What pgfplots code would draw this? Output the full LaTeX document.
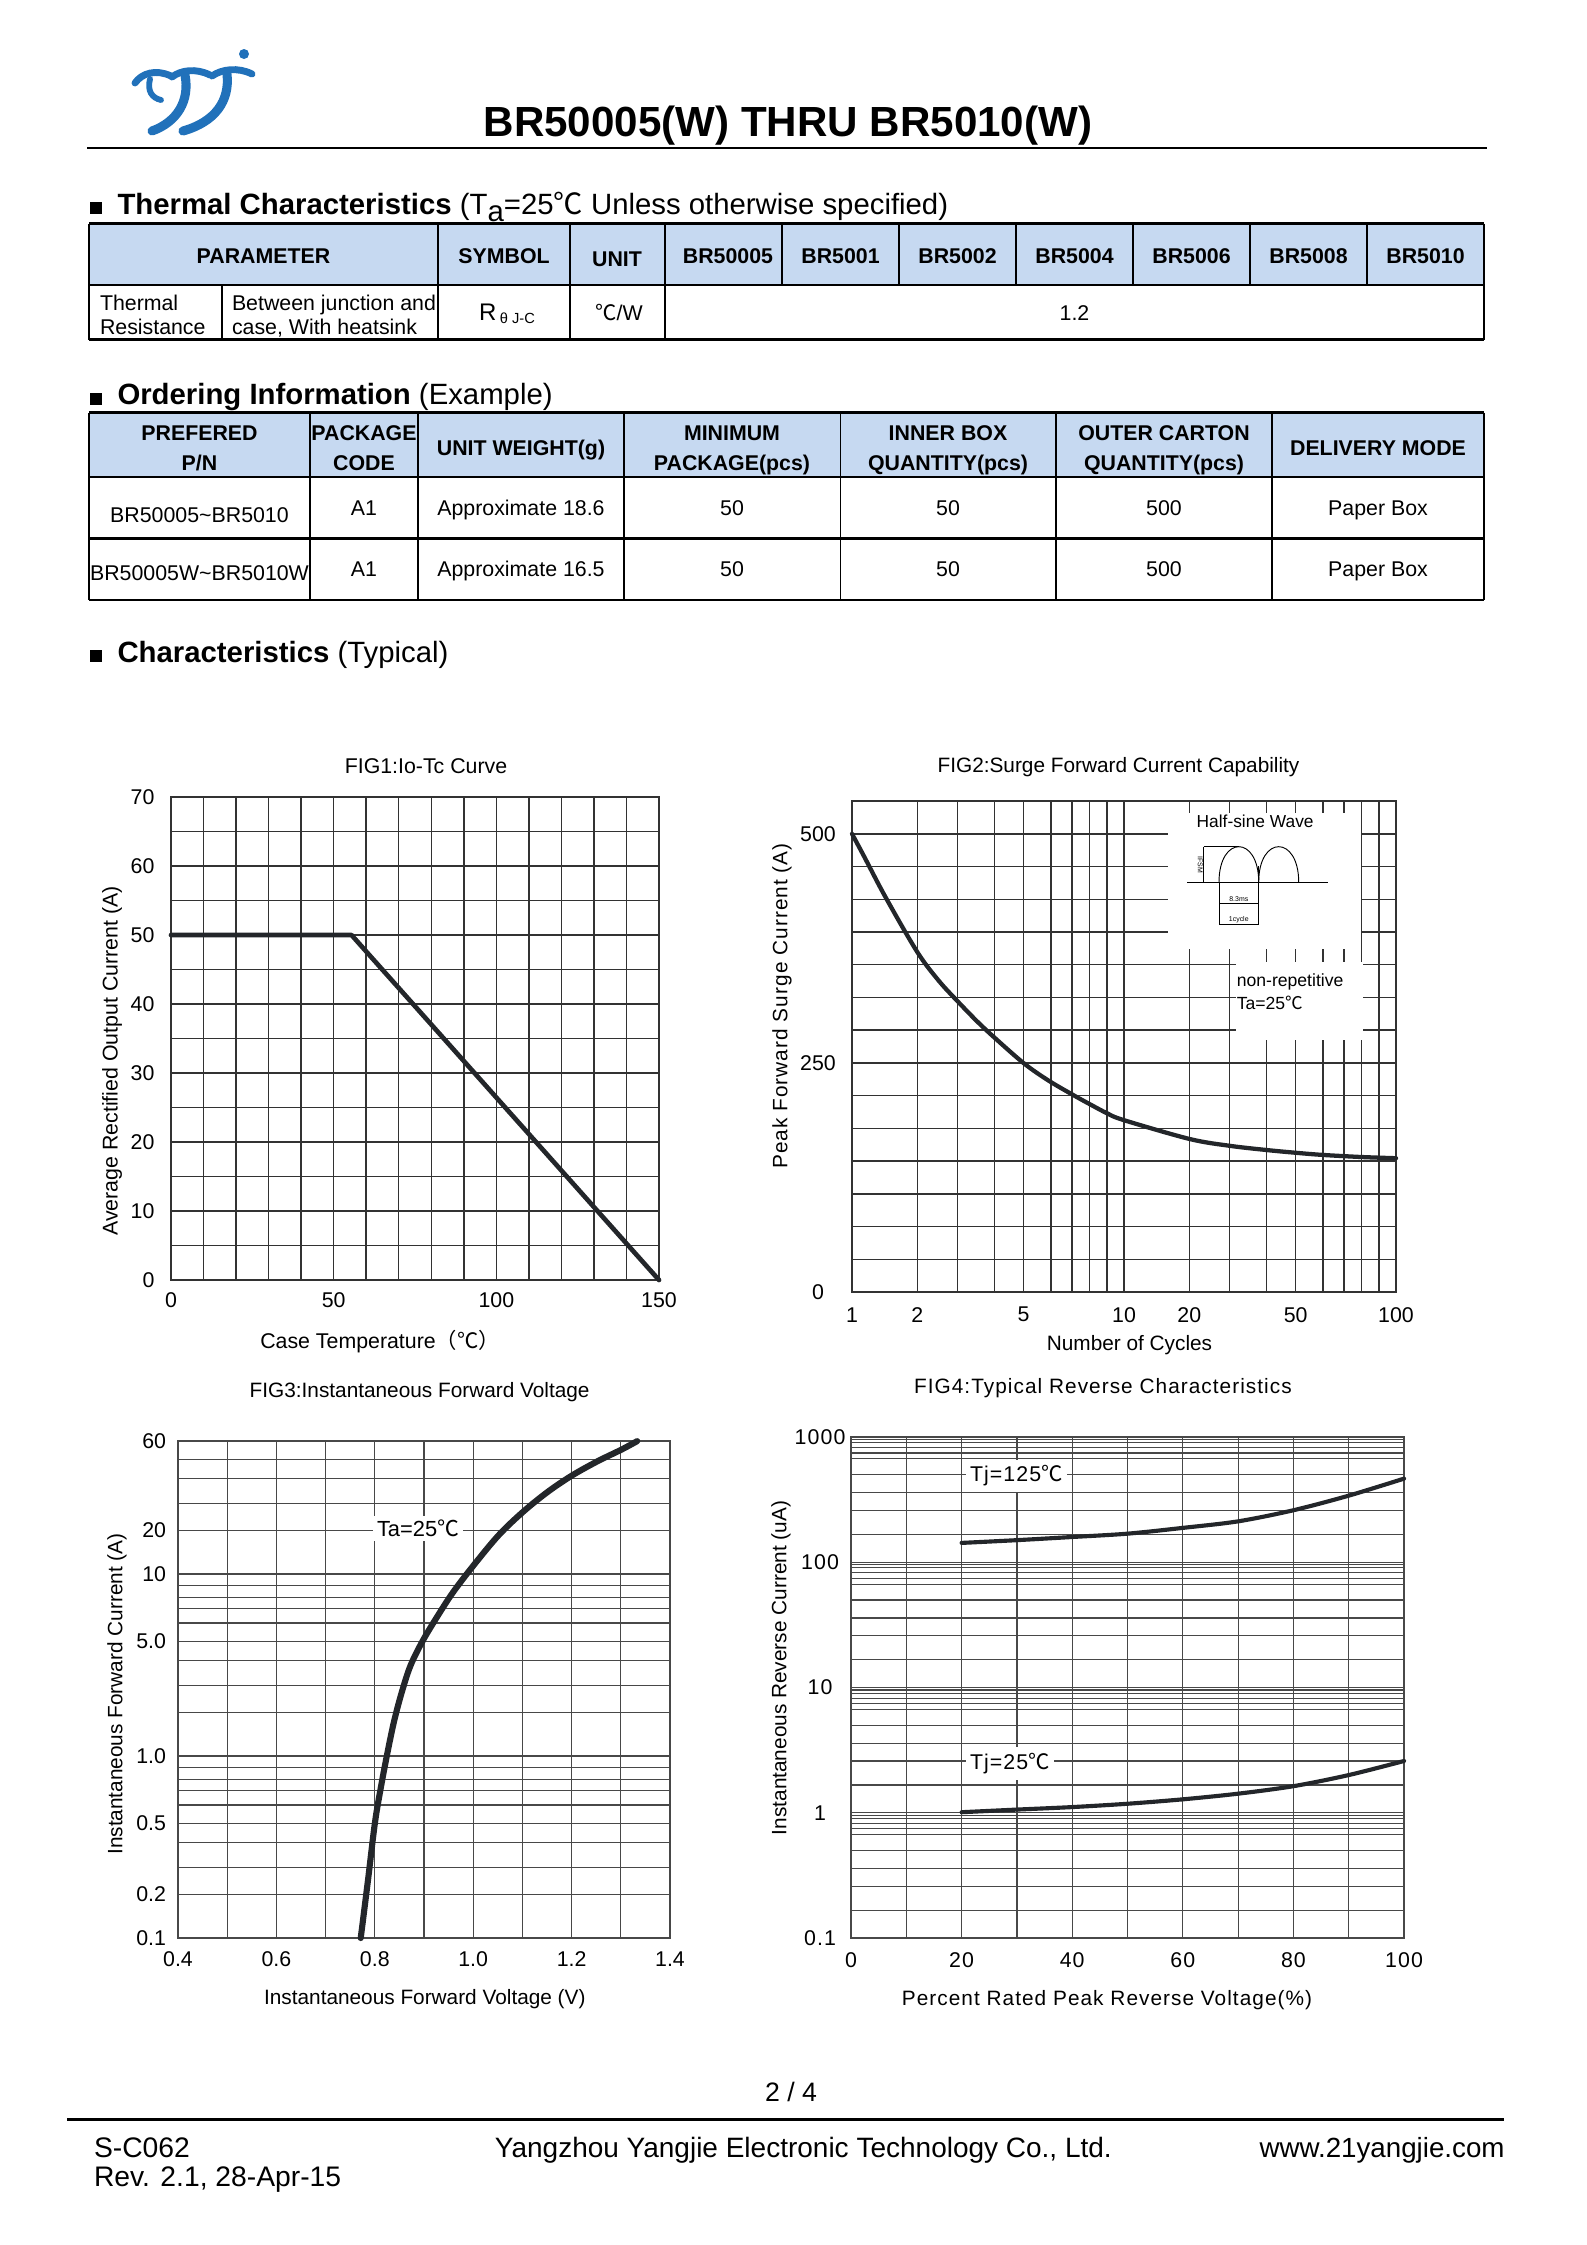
\documentclass[border=0pt]{standalone}
\usepackage{fontspec}
\setmainfont{Liberation Sans}
\newfontfamily\cjk{Noto Sans CJK SC}
\newfontfamily\lsp[LetterSpace=5]{Liberation Sans}
\usepackage{pgfplots}
\usepackage{pgfplotstable}
\pgfplotsset{compat=1.18}
\definecolor{hdr}{RGB}{198,217,241}
\definecolor{logo}{RGB}{33,113,186}
\definecolor{grd}{RGB}{72,72,72}
\definecolor{grdd}{RGB}{50,50,50}
\definecolor{crvc}{RGB}{35,38,42}
\newcommand\fs[1]{\fontsize{#1}{#1}\selectfont}
\newcommand\dC{{\cjk ℃}}

\pgfplotsset{
 ds/.style={scale only axis, anchor=south west, clip=false,
   axis line style={draw=grd, line width=0.5pt},
   grid=both,
   major grid style={draw=grd, line width=0.45pt},
   minor grid style={draw=grd, line width=0.45pt},
   major tick length=0pt, minor tick length=0pt,
   tick label style={font=\fs{8}, inner sep=0pt},
   /pgf/number format/assume math mode=true},
 dark/.style={axis line style={draw=grdd, line width=0.6pt},
   major grid style={draw=grdd, line width=0.55pt},
   minor grid style={draw=grdd, line width=0.55pt}},
 dcurve/.style={draw=crvc, line cap=round, line join=round, no marks},
}

% FIG1: Io-Tc curve
\pgfplotstableread{
T I
0 50
55.5 50
150 0
}\tabA
% FIG2: surge current; pos = location on the chart's cycle scale (decades)
\pgfplotstableread{
n pos I
1 0 500
1.19 0.045 475
1.51 0.123 431
2 0.240 371
2.53 0.318 340
3 0.389 317
3.54 0.461 295
4 0.526 277
5 0.632 249.5
5.9 0.721 231
7 0.810 215.5
8 0.874 205
9 0.938 195
10 1 187.5
20 1.241 167
30 1.387 159.6
40 1.522 155
50 1.629 152
60 1.730 149.6
80 1.873 147.3
100 2 146
}\tabB
% FIG3: forward voltage; pos = location on the chart's current scale (decades above 0.1 A)
\pgfplotstableread{
V I pos
0.7714 0.1 0
0.7859 0.249 0.3122
0.8003 0.503 0.6338
0.8124 0.731 0.8286
0.8244 1.0 1.0
0.8389 1.78 1.1878
0.8550 2.76 1.3521
0.8727 3.81 1.4977
0.8976 5.03 1.6338
0.9273 6.47 1.7676
0.9595 8.44 1.9014
1.0013 12.1 2.0493
1.0519 18.9 2.2136
1.1018 26.9 2.3427
1.1524 34.8 2.4531
1.2015 41.8 2.5423
1.2529 48.2 2.6197
1.3011 55.2 2.6831
1.3333 60 2.7300
}\tabC
% FIG4: reverse current
\pgfplotstableread{
V I
20 142.6
30 150
40 159
50 169
60 188
70 212
80 260
90 340
100 465
}\tabDh
\pgfplotstableread{
V I
20 1.01
30 1.06
40 1.11
50 1.18
60 1.28
70 1.42
80 1.63
90 2.00
100 2.59
}\tabDc

\begin{document}
\begin{tikzpicture}[tx/.style={inner sep=0pt, outer sep=0pt}]
\begin{scope}[x=0.375pt,y=-0.375pt]
\path[use as bounding box] (0,0) rectangle (1587,2245);

% ---------- logo ----------
\begin{scope}[draw=logo, line cap=round, line width=2.6pt]
\draw (135,83) .. controls (142,73) and (156,69) .. (171,76);
\draw[line width=2.2pt] (150,79) .. controls (147,91) and (152,98) .. (161,100);
\draw (172,77) .. controls (181,70) and (196,68) .. (210,75);
\draw[line width=3.4pt] (185,75) .. controls (190,101) and (177,122) .. (152,131);
\draw (212,76) .. controls (222,69) and (238,67) .. (252,74);
\draw[line width=3.4pt] (227,74) .. controls (230,101) and (215,122) .. (183,131);
\fill[logo] (244,54) circle (5);
\end{scope}

% ---------- title ----------
\node[tx, anchor=base, font=\fs{15.8}\bfseries] at (788,136.5) {BR50005(W) THRU BR5010(W)};
\draw[line width=1.1pt] (87,148) -- (1487,148);

% ---------- thermal characteristics ----------
\fill (90,202) rectangle (102,214);
\node[tx, anchor=base west, font=\fs{11}] at (117.5,214) {\textbf{Thermal Characteristics} (T\raisebox{-0.25em}{a}=25\dC\ Unless otherwise specified)};

\fill[hdr] (89,223.5) rectangle (1484,285);
\begin{scope}[line width=0.55pt]
 \foreach \x in {438,570,665,782,899,1016,1133,1250,1367} \draw (\x,223.5) -- (\x,285);
 \foreach \x in {222,438,570,665} \draw (\x,285) -- (\x,339.5);
\end{scope}
\draw[line width=1pt] (89,223.5) -- (1484,223.5) (89,285) -- (1484,285) (89,339.5) -- (1484,339.5);
\draw[line width=0.8pt] (89,223.5) -- (89,339.5) (1484,223.5) -- (1484,339.5);
\begin{scope}[every node/.style={tx, anchor=base, font=\fs{8}\bfseries}]
\node at (263.5,263) {PARAMETER};
\node at (504,263) {SYMBOL};
\node at (617,266.5) {UNIT};
\node at (728,263) {BR50005};
\node at (840.5,263) {BR5001};
\node at (957.5,263) {BR5002};
\node at (1074.5,263) {BR5004};
\node at (1191.5,263) {BR5006};
\node at (1308.5,263) {BR5008};
\node at (1425.5,263) {BR5010};
\end{scope}
\begin{scope}[every node/.style={tx, font=\fs{8}}]
\node[anchor=base west] at (100,310.5) {Thermal};
\node[anchor=base west] at (100,334) {Resistance};
\node[anchor=base west] at (232,310.5) {Between junction and};
\node[anchor=base west] at (232,334) {case, With heatsink};
\node[anchor=base] at (507,320) {{\fs{9}R}\,\raisebox{-0.15em}{\fs{5.5}θ J-C}};
\node[anchor=base] at (619,320) {\dC/W};
\node[anchor=base] at (1074.5,320) {1.2};
\end{scope}

% ---------- ordering information ----------
\fill (90,392.6) rectangle (102,404.6);
\node[tx, anchor=base west, font=\fs{11}] at (117.5,404.6) {\textbf{Ordering Information} (Example)};

\fill[hdr] (89,412.5) rectangle (1484,477);
\foreach \x in {310,418,624,840.5,1056,1272} \draw[line width=0.55pt] (\x,412.5) -- (\x,600);
\draw[line width=0.8pt] (89,412.5) -- (89,600) (1484,412.5) -- (1484,600);
\draw[line width=1pt] (89,412.5) -- (1484,412.5) (89,477) -- (1484,477) (89,538.5) -- (1484,538.5) (89,600) -- (1484,600);
\begin{scope}[every node/.style={tx, anchor=base, font=\fs{8}\bfseries}]
\node at (199.5,440) {PREFERED};
\node at (199.5,470) {P/N};
\node at (364,440) {PACKAGE};
\node at (364,470) {CODE};
\node at (521,455) {UNIT WEIGHT(g)};
\node at (732,440) {MINIMUM};
\node at (732,470) {PACKAGE(pcs)};
\node at (948,440) {INNER BOX};
\node at (948,470) {QUANTITY(pcs)};
\node at (1164,440) {OUTER CARTON};
\node at (1164,470) {QUANTITY(pcs)};
\node at (1378,455) {DELIVERY MODE};
\end{scope}
\begin{scope}[every node/.style={tx, anchor=base, font=\fs{8}}]
\node at (199.5,522) {BR50005\textasciitilde BR5010};
\node at (364,515) {A1};
\node at (521,515) {Approximate 18.6};
\node at (732,515) {50};
\node at (948,515) {50};
\node at (1164,515) {500};
\node at (1378,515) {Paper Box};
\node at (199.5,580) {BR50005W\textasciitilde BR5010W};
\node at (364,576) {A1};
\node at (521,576) {Approximate 16.5};
\node at (732,576) {50};
\node at (948,576) {50};
\node at (1164,576) {500};
\node at (1378,576) {Paper Box};
\end{scope}

% ---------- characteristics ----------
\fill (90,650.4) rectangle (102,662.4);
\node[tx, anchor=base west, font=\fs{11}] at (117.5,662.4) {\textbf{Characteristics} (Typical)};

% ---------- FIG labels ----------
\node[tx, anchor=base, font=\fs{8}] at (426,773) {FIG1:Io-Tc Curve};
\node[tx, rotate=90, font=\fs{8}] at (112,1061) {Average Rectified Output Current (A)};
\node[tx, anchor=base, font=\fs{8}] at (380,1348.5) {Case Temperature{\cjk（℃）}};

\node[tx, anchor=base, font=\fs{7.8}] at (1118.5,772) {FIG2:Surge Forward Current Capability};
\node[tx, rotate=90, font=\fs{7.8}\lsp] at (782,1006) {Peak Forward Surge Current (A)};
\node[tx, anchor=base, font=\fs{7.8}] at (1129.5,1350) {Number of Cycles};

\node[tx, anchor=base, font=\fs{7.8}] at (419.6,1397) {FIG3:Instantaneous Forward Voltage};
\node[tx, rotate=90, font=\fs{7.8}] at (117,1694) {Instantaneous Forward Current (A)};
\node[tx, anchor=base, font=\fs{7.8}] at (424.8,2004) {Instantaneous Forward Voltage (V)};

\node[tx, anchor=base, font=\fs{7.8}\lsp] at (1102.9,1393) {FIG4:Typical Reverse Characteristics};
\node[tx, rotate=90, font=\fs{7.8}] at (781,1668) {Instantaneous Reverse Current (uA)};
\node[tx, anchor=base, font=\fs{7.8}\lsp] at (1107,2005) {Percent Rated Peak Reverse Voltage(\%)};

% ---------- footer ----------
\node[tx, anchor=base, font=\fs{10}] at (791,2101) {2 / 4};
\draw[line width=0.9pt] (67,2119.5) -- (1504,2119.5);
\node[tx, anchor=base west, font=\fs{10.6}] at (94,2157) {S-C062};
\node[tx, anchor=base west, font=\fs{10.6}] at (94,2186) {Rev. 2.1, 28-Apr-15};
\node[tx, anchor=base, font=\fs{10.5}] at (803.4,2157) {Yangzhou Yangjie Electronic Technology Co., Ltd.};
\node[tx, anchor=base east, font=\fs{10.4}] at (1504.6,2157) {www.21yangjie.com};
\end{scope}

% ---------- FIG1 ----------
\begin{axis}[ds, dark, at={(64.125pt,-480pt)}, width=183pt, height=181.1pt,
  xmin=0, xmax=150, ymin=0, ymax=70,
  xtick={0,50,100,150}, xticklabels={0,50,100,150},
  minor xtick={10,20,30,40,60,70,80,90,110,120,130,140},
  ytick={0,10,20,30,40,50,60,70}, yticklabels={0,10,20,30,40,50,60,70},
  minor ytick={5,15,25,35,45,55,65},
  xticklabel style={anchor=center, yshift=-7.5pt},
  yticklabel style={anchor=east, xshift=-6pt}]
\addplot[dcurve, line width=1.75pt] table[x=T, y=I] {\tabA};
\end{axis}

% ---------- FIG2 ----------
\begin{axis}[ds, dark, at={(319.5pt,-484.5pt)}, width=204pt, height=184.1pt,
  xmin=0, xmax=2, ymin=0, ymax=535.714,
  xtick={0,0.24,0.631,1,1.24,1.631,2}, xticklabels={1,2,5,10,20,50,100},
  minor xtick={0.388,0.523,0.731,0.809,0.873,0.937,1.388,1.523,1.731,1.809,1.873,1.937},
  ytick={0,250,500}, yticklabels={0,250,500},
  minor ytick={35.714,71.429,107.143,142.857,178.571,214.286,285.714,321.429,357.143,392.857,428.571,464.286},
  xticklabel style={anchor=center, yshift=-8.5pt},
  yticklabel style={anchor=center, xshift=-12.75pt}]
\addplot[dcurve, line width=1.6pt, smooth, tension=0.55] table[x=pos, y=I] {\tabB};
\end{axis}

% ---------- FIG3 ----------
\begin{axis}[ds, at={(66.75pt,-726.75pt)}, width=184.5pt, height=186.4pt,
  xmin=0.4, xmax=1.4, ymin=0, ymax=2.731,
  xtick={0.4,0.6,0.8,1.0,1.2,1.4}, xticklabels={0.4,0.6,0.8,1.0,1.2,1.4},
  minor xtick={0.5,0.7,0.9,1.1,1.3},
  ytick={0,0.24,0.631,1,1.631,2,2.24,2.731}, yticklabels={0.1,0.2,0.5,1.0,5.0,10,20,60},
  minor ytick={0.388,0.523,0.731,0.809,0.873,0.937,1.24,1.388,1.523,1.731,1.809,1.873,1.937,2.388,2.523,2.631},
  xticklabel style={anchor=center, yshift=-8pt},
  yticklabel style={anchor=east, xshift=-4.3pt}]
\addplot[dcurve, line width=2.3pt, smooth, tension=0.55] table[x=V, y=pos] {\tabC};
\end{axis}

% ---------- FIG4 ----------
\begin{axis}[ds, at={(319.125pt,-726.75pt)}, width=207.4pt, height=187.9pt,
  xmin=0, xmax=100, ymode=log, ymin=0.1, ymax=1000,
  xtick={0,20,40,60,80,100}, xticklabels={0,20,40,60,80,100},
  minor xtick={10,30,50,70,90},
  ytick={0.1,1,10,100,1000}, yticklabels={0.1,1,10,100,1000},
  minor ytick={0.1663,0.2594,0.3589,0.4989,0.6683,0.7447,0.8222,0.9016,0.955,
    1.663,2.594,3.589,4.989,6.683,7.447,8.222,9.016,9.55,
    16.63,25.94,35.89,49.89,66.83,74.47,82.22,90.16,95.5,
    166.3,259.4,358.9,498.9,668.3,744.7,822.2,901.6,955},
  tick label style={font=\fs{8}\lsp},
  xticklabel style={anchor=center, yshift=-8.4pt},
  yticklabel style={anchor=center, xshift=-11.6pt}]
\addplot[dcurve, line width=1.55pt, smooth, tension=0.5] table[x=V, y=I] {\tabDh};
\addplot[dcurve, line width=1.55pt, smooth, tension=0.5] table[x=V, y=I] {\tabDc};
\end{axis}

% ---------- overlays on the charts ----------
\begin{scope}[x=0.375pt,y=-0.375pt]
\fill[white] (1168,813) rectangle (1361,949);
\fill[white] (1236,962) rectangle (1363,1040);
\node[tx, anchor=west, font=\fs{6.5}] at (1196.7,821.7) {Half-sine Wave};
\node[tx, anchor=west, font=\fs{6.6}] at (1236.8,981.7) {non-repetitive};
\node[tx, anchor=west, font=\fs{6.6}] at (1236.8,1002.7) {Ta=25\dC};
\begin{scope}[line width=0.35pt]
\draw (1187,882.3) -- (1328,882.3);
\draw (1219,882.3) .. controls (1219,834.8) and (1258.7,834.8) .. (1258.7,882.3);
\draw (1258.7,882.3) .. controls (1258.7,834.8) and (1298.7,834.8) .. (1298.7,882.3);
\draw (1203.9,846.7) -- (1239,846.7);
\draw (1203.9,846.7) -- (1203.9,882.3);
\draw (1219,882.3) -- (1219,925);
\draw (1258.7,866) -- (1258.7,925);
\draw (1219,903.3) -- (1258.7,903.3);
\draw (1219,924.3) -- (1258.7,924.3);
\end{scope}
\node[tx, anchor=base, font=\fs{2.6}] at (1238.8,901) {8.3ms};
\node[tx, anchor=base, font=\fs{2.6}] at (1238.8,921.8) {1cycle};
\node[tx, rotate=-90, font=\fs{2.6}] at (1200.3,865) {IFSM};
\node[anchor=west, fill=white, inner xsep=1.5pt, inner ysep=1.5pt, outer sep=0pt, font=\fs{8.2}] at (373,1528.6) {Ta=25\dC};
\node[anchor=west, fill=white, inner xsep=1.5pt, inner ysep=2.2pt, outer sep=0pt, font=\fs{8}\lsp] at (966,1476) {Tj=125\dC};
\node[anchor=west, fill=white, inner xsep=1.5pt, inner ysep=2.2pt, outer sep=0pt, font=\fs{8}\lsp] at (966,1763.3) {Tj=25\dC};
\end{scope}
\end{tikzpicture}
\end{document}
